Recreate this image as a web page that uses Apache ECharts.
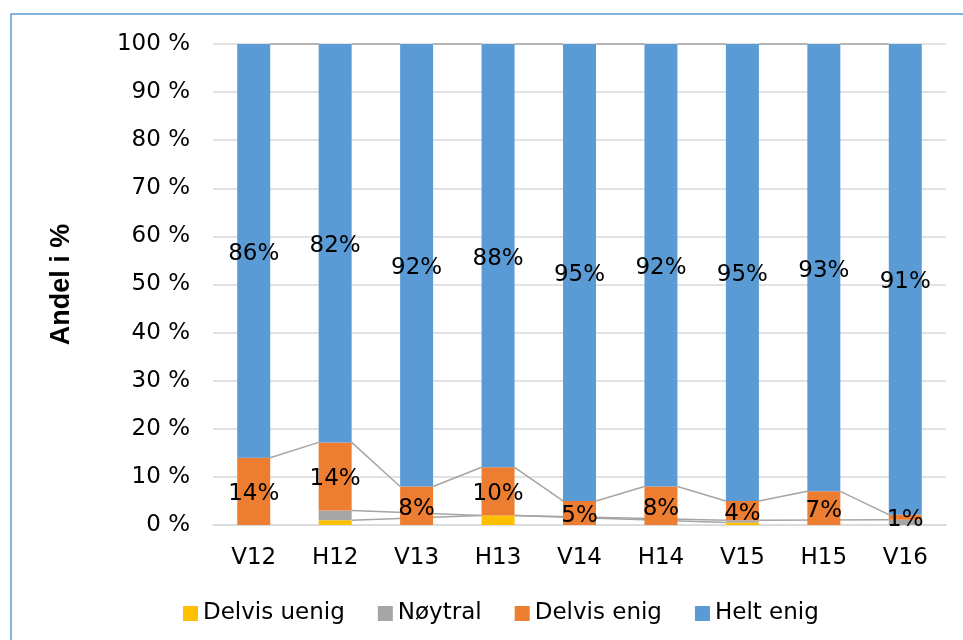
<!DOCTYPE html>
<html>
<head>
<meta charset="utf-8">
<script src="https://cdn.jsdelivr.net/npm/echarts@6/dist/echarts.min.js"></script>
<style>
    html, body { margin: 0; padding: 0; background: #fff; }
    #chart { width: 963px; height: 640px; }
</style>
</head>
<body>
<div id="chart"></div>
<script>
    // raw answers in percent, shown as 100% stacked columns
    // null = no answers in that group (series line skips the column)
    var categories = ['V12', 'H12', 'V13', 'H13', 'V14', 'H14', 'V15', 'H15', 'V16'];
    var delvisUenig = [null, 1, null, 2, null, null, 0.5, null, null];
    var noytral = [null, 2, null, 0, null, null, 0.5, null, 1];
    var delvisEnig = [14, 14, 8, 10, 5, 8, 4, 7, 1];
    var heltEnig = [86, 82, 92, 88, 95, 92, 95, 93, 91];
    var yTicks = ['0 %', '10 %', '20 %', '30 %', '40 %', '50 %', '60 %', '70 %', '80 %', '90 %', '100 %'];

    var names = ['Delvis uenig', 'Nøytral', 'Delvis enig', 'Helt enig'];
    var colors = ['#ffc000', '#a5a5a5', '#ed7d31', '#5b9bd5'];
    var raw = [delvisUenig, noytral, delvisEnig, heltEnig];
    var barWidth = 33;
    var font = 'DejaVu Sans';

    // normalise every column to 100 %
    var totals = categories.map(function (c, i) {
        return raw.reduce(function (s, arr) { return s + (arr[i] || 0); }, 0);
    });
    var shares = raw.map(function (arr) {
        return arr.map(function (v, i) { return v == null ? null : v / totals[i] * 100; });
    });
    // top of every segment, used for the series lines
    var tops = [];
    shares.forEach(function (arr, k) {
        tops.push(arr.map(function (v, i) {
            var below = 0;
            for (var j = 0; j < k; j++) below += shares[j][i] || 0;
            return v == null ? null : below + v;
        }));
    });

    var series = names.map(function (name, k) {
        return {
            name: name,
            type: 'bar',
            stack: 'total',
            barWidth: barWidth,
            itemStyle: { color: colors[k] },
            z: 3,
            label: {
                show: k >= 2,
                position: 'inside',
                color: '#000',
                fontFamily: font,
                fontSize: 23,
                offset: [0, 3],
                formatter: function (p) { return raw[k][p.dataIndex] + '%'; }
            },
            data: shares[k]
        };
    });

    // series lines: right edge of a column to left edge of the next column with data
    series.push({
        type: 'custom',
        name: 'lines',
        z: 1,
        silent: true,
        data: categories.slice(0, -1).map(function (c, i) { return [i]; }),
        renderItem: function (params, api) {
            var i = api.value(0);
            var children = [];
            tops.forEach(function (level) {
                if (level[i] == null) return;
                var j = i + 1;
                while (j < level.length && level[j] == null) j++;
                if (j >= level.length) return;
                var a = api.coord([i, level[i]]);
                var b = api.coord([j, level[j]]);
                children.push({
                    type: 'line',
                    shape: { x1: a[0] + barWidth / 2, y1: a[1], x2: b[0] - barWidth / 2, y2: b[1] },
                    style: { stroke: '#a5a5a5', lineWidth: 1.5 }
                });
            });
            return { type: 'group', children: children };
        }
    });

    var chart = echarts.init(document.getElementById('chart'));
    chart.setOption({
        animation: false,
        textStyle: { fontFamily: font },
        graphic: [{
            type: 'rect',
            shape: { x: 11, y: 14, width: 1000, height: 700 },
            style: { fill: 'none', stroke: '#5b9bd5', lineWidth: 1.5 },
            silent: true
        }],
        grid: { left: 213, right: 17, top: 44, bottom: 115 },
        legend: {
            data: names,
            left: 178,
            top: 597,
            icon: 'rect',
            itemWidth: 15,
            itemHeight: 15,
            itemGap: 33,
            textStyle: { fontFamily: font, fontSize: 23, color: '#000' }
        },
        xAxis: {
            type: 'category',
            data: categories,
            axisLine: { lineStyle: { color: '#d9d9d9', width: 1.5 } },
            axisTick: { show: false },
            axisLabel: { color: '#000', fontSize: 23, fontFamily: font, margin: 22 }
        },
        yAxis: {
            type: 'value',
            min: 0,
            max: 100,
            interval: 10,
            name: 'Andel i %',
            nameLocation: 'middle',
            nameGap: 138,
            nameRotate: 90,
            nameTextStyle: { fontFamily: 'Liberation Sans', fontWeight: 'bold', fontSize: 27, color: '#000' },
            axisLine: { show: false },
            axisTick: { show: false },
            splitLine: { lineStyle: { color: '#d9d9d9', width: 1.5 } },
            axisLabel: {
                color: '#000',
                fontSize: 23,
                fontFamily: font,
                margin: 23,
                formatter: function (v) { return yTicks[Math.round(v / 10)]; }
            }
        },
        series: series
    });
</script>
</body>
</html>
